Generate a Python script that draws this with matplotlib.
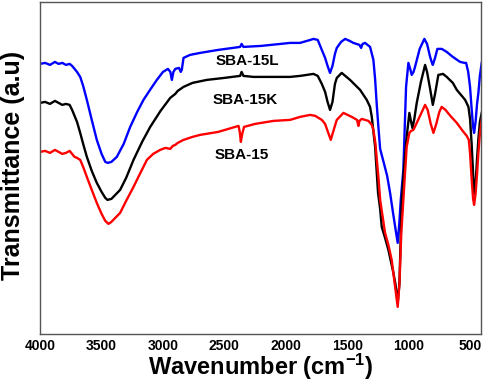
import matplotlib
matplotlib.use("Agg")
from matplotlib import pyplot as plt

# FTIR spectra (wavenumber in cm-1, transmittance in arbitrary units)
wn_l = [4000, 3960, 3920, 3880, 3850, 3820, 3790, 3760, 3740, 3700, 3674, 3650, 3620, 3580,
        3539, 3500, 3470, 3449, 3420, 3376, 3320, 3267, 3210, 3159, 3100, 3050, 3000, 2960,
        2940, 2928, 2915, 2900, 2870, 2855, 2847, 2833, 2780, 2698, 2550, 2372, 2360, 2345,
        2200, 1965, 1884, 1800, 1775, 1740, 1707, 1680, 1660, 1640, 1620, 1600, 1585, 1550,
        1517, 1480, 1450, 1400, 1387, 1375, 1355, 1314, 1287, 1273, 1260, 1245, 1232, 1200,
        1175, 1151, 1127, 1102, 1089, 1075, 1064, 1043, 1021, 1002, 985, 975, 960, 948, 910,
        872, 850, 825, 810, 803, 785, 766, 730, 690, 640, 581, 545, 532, 515, 500, 487, 475,
        467, 455, 443, 432, 420, 405]
tr_l = [270, 271, 269, 272, 270, 271, 269, 270, 268, 262, 257, 248, 234, 214,
        194, 180, 172, 171, 172, 177, 190, 207, 222, 234, 245, 254, 262, 265,
        262, 254, 262, 265, 266, 262, 264, 276, 279, 281, 284, 287, 290, 287,
        288, 291, 291, 294, 295, 294, 284, 276, 268, 261, 268, 280, 286, 292,
        295, 293, 291, 289, 286, 290, 291, 287, 274, 255, 230, 205, 185, 170,
        158, 141, 121, 101, 91, 112, 134, 164, 247, 271, 264, 259, 262, 267, 285,
        295, 290, 277, 271, 269, 276, 285, 285, 282, 277, 272, 271, 271, 262, 247, 225, 207,
        201, 212, 230, 241, 258, 271]

wn_k = [4000, 3960, 3920, 3880, 3850, 3820, 3790, 3760, 3740, 3700, 3674, 3650, 3620, 3580,
        3539, 3500, 3470, 3452, 3420, 3349, 3300, 3240, 3170, 3104, 3020, 2941, 2900, 2880,
        2833, 2760, 2643, 2500, 2372, 2360, 2345, 2263, 2100, 1965, 1884, 1775, 1740, 1707,
        1680, 1660, 1640, 1620, 1600, 1585, 1545, 1477, 1395, 1341, 1314, 1300, 1273, 1249,
        1232, 1219, 1192, 1165, 1140, 1124, 1105, 1089, 1075, 1056, 1035, 1016, 994, 980,
        969, 955, 934, 900, 866, 850, 825, 803, 785, 758, 720, 690, 640, 608, 560, 540, 513,
        500, 487, 475, 467, 455, 443, 432, 420, 405]
tr_k = [231, 232, 230, 233, 231, 229, 230, 229, 224, 212, 201, 190, 177, 163,
        151, 142, 136, 134, 135, 144, 156, 174, 192, 207, 223, 236, 240, 243,
        247, 251, 254, 256, 258, 262, 258, 257, 257, 257, 258, 260, 258, 250,
        242, 232, 224, 232, 250, 256, 261, 254, 244, 234, 227, 217, 187, 141,
        125, 107, 96, 84, 70, 61, 48, 31, 50, 134, 170, 197, 221, 212,
        206, 214, 231, 252, 269, 262, 245, 229, 240, 259, 260, 257, 251, 244, 237, 234, 227,
        215, 190, 160, 140, 150, 175, 195, 212, 221]

wn_r = [4000, 3960, 3920, 3880, 3850, 3820, 3790, 3760, 3740, 3720, 3700, 3674, 3650, 3620,
        3580, 3539, 3500, 3470, 3444, 3420, 3349, 3300, 3240, 3180, 3131, 3080, 3023, 2980,
        2941, 2920, 2900, 2880, 2833, 2760, 2698, 2550, 2385, 2375, 2366, 2355, 2340, 2250,
        2100, 1965, 1884, 1802, 1760, 1707, 1680, 1660, 1634, 1610, 1585, 1531, 1463, 1420,
        1409, 1400, 1382, 1327, 1300, 1287, 1270, 1259, 1245, 1232, 1192, 1165, 1138, 1110,
        1089, 1075, 1060, 1043, 1016, 994, 980, 961, 930, 900, 866, 845, 820, 798, 775, 750,
        731, 700, 660, 608, 560, 527, 510, 500, 487, 475, 467, 455, 443, 432, 420, 405]
tr_r = [182, 183, 181, 184, 182, 180, 181, 183, 180, 177, 176, 174, 167, 157,
        144, 131, 120, 113, 110, 112, 121, 133, 147, 162, 174, 180, 184, 186,
        185, 188, 189, 191, 194, 197, 199, 202, 208, 202, 192, 200, 207, 210,
        213, 214, 217, 219, 218, 214, 210, 203, 194, 204, 214, 221, 217, 214,
        208, 213, 215, 213, 209, 204, 190, 174, 155, 134, 101, 89, 74, 47,
        27, 50, 100, 134, 187, 201, 203, 204, 212, 220, 229, 224, 210, 201, 210, 222,
        227, 224, 218, 211, 203, 198, 194, 181, 155, 135, 129, 140, 160, 181, 200, 214]

labels = ["SBA-15L", "SBA-15K", "SBA-15"]

plt.rcParams['font.family'] = ['Liberation Sans', 'DejaVu Sans']
plt.rcParams['font.weight'] = 'bold'
plt.rcParams['mathtext.fontset'] = 'custom'
plt.rcParams['mathtext.rm'] = 'Liberation Sans:bold'
plt.rcParams['mathtext.bf'] = 'Liberation Sans:bold'
plt.rcParams['mathtext.default'] = 'bf'

fig = plt.figure(figsize=(4.84, 3.82), dpi=100)
ax = fig.add_axes([0.083, 0.126, 0.911, 0.869])

ax.plot(wn_l, tr_l, color='#0000ff', lw=1.7)
ax.plot(wn_k, tr_k, color='black', lw=1.7)
ax.plot(wn_r, tr_r, color='#ff0000', lw=1.7)

ax.text(2315, 273, labels[0], ha='center', va='center', fontsize=11, fontweight='bold')
ax.text(2330, 234, labels[1], ha='center', va='center', fontsize=11, fontweight='bold')
ax.text(2355, 179, labels[2], ha='center', va='center', fontsize=11, fontweight='bold')

ax.set_xlim(4000, 410)
ax.set_ylim(0, 332)
ax.set_xticks([4000, 3500, 3000, 2500, 2000, 1500, 1000, 500])
ax.set_yticks([])
ax.tick_params(axis='x', length=0, pad=4, labelsize=10)
for lbl in ax.get_xticklabels():
    lbl.set_fontweight('bold')
for sp in ax.spines.values():
    sp.set_color('#555555')
    sp.set_linewidth(1.0)

ax.set_xlabel('Wavenumber (cm$^{-1}$)', fontsize=17, fontweight='bold', labelpad=-1)
ax.set_ylabel('Transmittance (a.u)', fontsize=18, fontweight='bold')
ax.yaxis.set_label_coords(-0.034, 0.506)

fig.savefig('out.png', dpi=100)
